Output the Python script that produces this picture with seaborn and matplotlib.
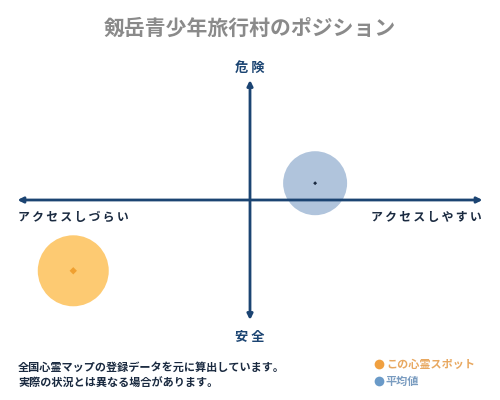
import matplotlib
matplotlib.use("Agg")
import matplotlib.pyplot as plt
from matplotlib.lines import Line2D
import seaborn as sns
import pandas as pd

# ---- data ----
labels = ["この心霊スポット", "平均値"]
access = [-76, 28]      # x: アクセスしづらい(-) ... アクセスしやすい(+)
danger = [-59, 14]      # y: 安全(-) ... 危険(+)
bubble = [2613, 2123]   # bubble area (pt^2)
fill_colors = ["#fdca72", "#b0c4dc"]
dot_colors = ["#f0a030", "#1a2a40"]
legend_colors = ["#f0a040", "#6a9ac8"]
legend_text_colors = ["#e8a860", "#7a9cc0"]

title = "剱岳青少年旅行村のポジション"
top_label = "危 険"
bottom_label = "安 全"
left_label = "アクセスしづらい"
right_label = "アクセスしやすい"
notes = ["全国心霊マップの登録データを元に算出しています。",
         "実際の状況とは異なる場合があります。"]

THIN = "\u2009"


def spaced(s):
    return THIN.join(s)


df = pd.DataFrame({"label": labels, "access": access, "danger": danger, "size": bubble})

sns.set_theme(style="white")
plt.rcParams["font.family"] = ["Noto Sans CJK JP", "DejaVu Sans"]

navy = "#1b4472"
fig = plt.figure(figsize=(5, 4), dpi=100)
ax = fig.add_axes([0, 0, 1, 1])
ax.set_xlim(-107.5, 107.5)
ax.set_ylim(-166.7, 166.7)
ax.axis("off")

sns.scatterplot(data=df, x="access", y="danger", hue="label", size="label",
                palette=dict(zip(labels, fill_colors)),
                sizes=dict(zip(labels, bubble)),
                linewidth=0, legend=False, ax=ax, zorder=1)
sns.scatterplot(data=df, x="access", y="danger", hue="label",
                palette=dict(zip(labels, dot_colors)),
                s=[14, 4], marker="D", linewidth=0, legend=False, ax=ax, zorder=4)

arrow_kw = dict(arrowstyle="<|-|>", color=navy, lw=2, mutation_scale=8,
                shrinkA=0, shrinkB=0)
ax.annotate("", xy=(100, 0), xytext=(-100, 0), arrowprops=arrow_kw, zorder=3)
ax.annotate("", xy=(0, 100), xytext=(0, -100), arrowprops=arrow_kw, zorder=3)

fig.text(0.5, 1 - 28 / 400, title, ha="center", va="center", fontsize=15,
         fontweight="bold", color="#8a8a8a")
fig.text(0.5, 1 - 68 / 400, top_label, ha="center", va="center", fontsize=9.5,
         fontweight="bold", color=navy)
fig.text(0.5, 1 - 337 / 400, bottom_label, ha="center", va="center", fontsize=9.5,
         fontweight="bold", color=navy)
fig.text(18 / 500, 1 - 217 / 400, spaced(left_label), ha="left", va="center", fontsize=8.5,
         fontweight="bold", color="#1a2a40")
fig.text(482 / 500, 1 - 217 / 400, spaced(right_label), ha="right", va="center", fontsize=8.5,
         fontweight="bold", color="#1a2a40")
for i, n in enumerate(notes):
    fig.text(18 / 500, 1 - (367 + 16 * i) / 400, n, ha="left", va="center",
             fontsize=8, fontweight="bold", color="#1a2a40")

handles = [Line2D([0], [0], marker="o", linestyle="", markersize=7,
                  markerfacecolor=c, markeredgewidth=0) for c in legend_colors]
leg = fig.legend(handles, labels, loc="upper left", bbox_to_anchor=(376 / 500, 1 - 358 / 400),
                 frameon=False, fontsize=8, handlelength=0.6, handletextpad=0.3,
                 labelspacing=0.35, borderpad=0, borderaxespad=0,
                 labelcolor=legend_text_colors)
for t in leg.get_texts():
    t.set_fontweight("bold")

fig.savefig("out.png", dpi=100)
